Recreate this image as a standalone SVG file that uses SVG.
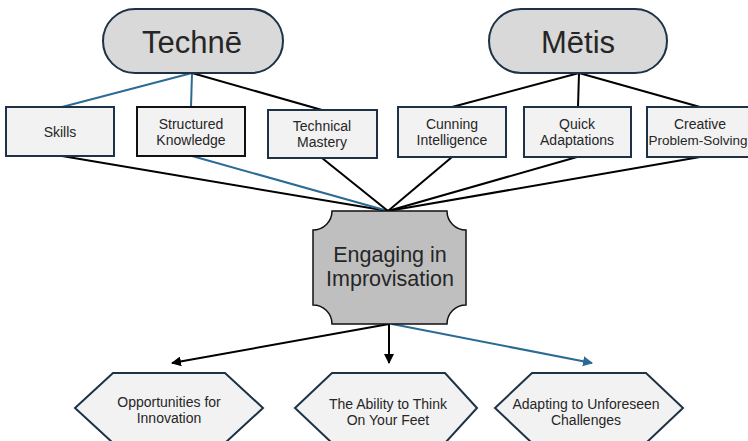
<svg xmlns="http://www.w3.org/2000/svg" width="748" height="441" viewBox="0 0 748 441">
  <style>
    text { font-family: "Liberation Sans", Arial, sans-serif; fill: #262626; text-anchor: middle; }
    .pill { fill: #d9d9d9; stroke: #1d3246; stroke-width: 2; }
    .pill-label { font-size: 31px; }
    .box { fill: #f2f2f2; stroke: #1d3246; stroke-width: 2; }
    .box-label { font-size: 14px; }
    .hex { fill: #f2f2f2; stroke: #1d3246; stroke-width: 2; }
    .hex-label { font-size: 14px; }
    .core { fill: #bfbfbf; stroke: #111; stroke-width: 1.5; }
    .core-label { font-size: 21.5px; }
    .ln { fill: none; stroke: #000; stroke-width: 2; }
    .ln.blue { stroke: #2b6b93; }
  </style>
  <defs>
    <marker id="arrow-black" viewBox="0 0 10 10" refX="9" refY="5" markerWidth="5" markerHeight="5" orient="auto">
      <path d="M0,0 L10,5 L0,10 Z" fill="#000"/>
    </marker>
    <marker id="arrow-blue" viewBox="0 0 10 10" refX="9" refY="5" markerWidth="5" markerHeight="5" orient="auto">
      <path d="M0,0 L10,5 L0,10 Z" fill="#2b6b93"/>
    </marker>
  </defs>

  <!-- connectors -->
  <g id="connectors">
    <!-- Technē to its boxes -->
    <line class="ln blue" x1="192" y1="73" x2="62" y2="107"/>
    <line class="ln blue" x1="192" y1="73" x2="191" y2="107"/>
    <line class="ln" x1="192" y1="73" x2="322" y2="110"/>
    <!-- Mētis to its boxes -->
    <line class="ln" x1="579" y1="73" x2="452" y2="107"/>
    <line class="ln" x1="579" y1="73" x2="578" y2="107"/>
    <line class="ln" x1="579" y1="73" x2="700" y2="107"/>
    <!-- boxes into the core -->
    <line class="ln" x1="62" y1="156" x2="388" y2="211"/>
    <line class="ln blue" x1="192" y1="156" x2="388" y2="211"/>
    <line class="ln" x1="322" y1="158" x2="388" y2="211"/>
    <line class="ln" x1="452" y1="157" x2="388" y2="211"/>
    <line class="ln" x1="577" y1="157" x2="388" y2="211"/>
    <line class="ln" x1="700" y1="157" x2="388" y2="211"/>
    <!-- core to outcomes -->
    <line class="ln" x1="389" y1="324" x2="172" y2="363" marker-end="url(#arrow-black)"/>
    <line class="ln" x1="389" y1="324" x2="389" y2="363" marker-end="url(#arrow-black)"/>
    <line class="ln blue" x1="392" y1="324" x2="592" y2="363" marker-end="url(#arrow-blue)"/>
  </g>

  <!-- top concepts -->
  <g id="techne">
    <rect class="pill" x="103" y="9" width="180" height="64" rx="32" ry="32"/>
    <text class="pill-label" x="192" y="53">Technē</text>
  </g>
  <g id="metis">
    <rect class="pill" x="489" y="9" width="178" height="64" rx="32" ry="32"/>
    <text class="pill-label" x="578" y="53">Mētis</text>
  </g>

  <!-- second row -->
  <g id="skills">
    <rect class="box" x="6" y="107" width="108" height="49"/>
    <text class="box-label" x="60" y="137">Skills</text>
  </g>
  <g id="structured-knowledge">
    <rect class="box" x="137" y="107" width="108" height="49" style="stroke:#111"/>
    <text class="box-label" x="191" y="129">Structured</text>
    <text class="box-label" x="191" y="145">Knowledge</text>
  </g>
  <g id="technical-mastery">
    <rect class="box" x="268" y="110" width="109" height="48"/>
    <text class="box-label" x="322" y="131">Technical</text>
    <text class="box-label" x="322" y="147">Mastery</text>
  </g>
  <g id="cunning-intelligence">
    <rect class="box" x="398" y="107" width="108" height="50"/>
    <text class="box-label" x="452" y="129">Cunning</text>
    <text class="box-label" x="452" y="145">Intelligence</text>
  </g>
  <g id="quick-adaptations">
    <rect class="box" x="524" y="107" width="107" height="50"/>
    <text class="box-label" x="577" y="129">Quick</text>
    <text class="box-label" x="577" y="145">Adaptations</text>
  </g>
  <g id="creative-problem-solving">
    <rect class="box" x="647" y="107" width="110" height="50"/>
    <text class="box-label" x="700" y="129">Creative</text>
    <text class="box-label" x="698" y="145" style="font-size:13.5px">Problem-Solving</text>
  </g>

  <!-- core activity -->
  <g id="engaging-in-improvisation">
    <path class="core" d="M332,211 H447 A19,19 0 0 0 466,230 V305 A19,19 0 0 0 447,324 H332 A19,19 0 0 0 313,305 V230 A19,19 0 0 0 332,211 Z"/>
    <text class="core-label" x="390" y="262">Engaging in</text>
    <text class="core-label" x="390" y="286">Improvisation</text>
  </g>

  <!-- outcomes -->
  <g id="opportunities-for-innovation">
    <polygon class="hex" points="113,373 225,373 263,408 225,443 113,443 75,408"/>
    <text class="hex-label" x="169" y="407">Opportunities for</text>
    <text class="hex-label" x="169" y="423">Innovation</text>
  </g>
  <g id="think-on-your-feet">
    <polygon class="hex" points="332,373 445,373 477,408 445,443 332,443 295,408"/>
    <text class="hex-label" x="388" y="409">The Ability to Think</text>
    <text class="hex-label" x="388" y="425">On Your Feet</text>
  </g>
  <g id="adapting-to-unforeseen-challenges">
    <polygon class="hex" points="532,373 646,373 683,408 646,443 532,443 495,408"/>
    <text class="hex-label" x="586" y="409">Adapting to Unforeseen</text>
    <text class="hex-label" x="586" y="425">Challenges</text>
  </g>
</svg>
